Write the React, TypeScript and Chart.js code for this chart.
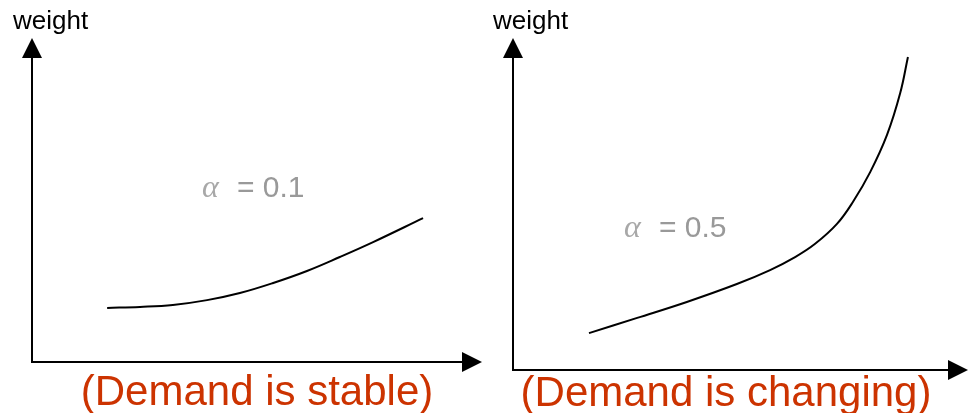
import React, { useEffect, useRef } from "react";
import { Chart, registerables } from "chart.js";

Chart.register(...registerables);

// Left panel (alpha = 0.1): time vs weight
const stableTime = [1.67, 2.4, 3.13, 3.89, 4.62, 5.36, 6.11, 6.84, 7.58, 8.69];
const stableWeight = [1.67, 1.7, 1.76, 1.91, 2.13, 2.44, 2.81, 3.24, 3.7, 4.44];
// Right panel (alpha = 0.5)
const changingTime = [1.67, 2.73, 3.82, 4.92, 5.65, 6.2, 6.64, 7.12, 7.47, 7.85, 8.22, 8.51, 8.68];
const changingWeight = [1.11, 1.57, 2.05, 2.59, 3.01, 3.4, 3.8, 4.4, 5.06, 5.96, 7.08, 8.34, 9.43];

const axisLabel = "weight";
const alphaValues = ["0.1", "0.5"];
const captions = ["(Demand is stable)", "(Demand is changing)"];

const SANS = '"Liberation Sans", Arial, sans-serif';
const SERIF = '"Liberation Serif", "Times New Roman", serif';

const decorPlugin = {
  id: "decor",
  afterDraw(chart: any, _args: any, opts: any) {
    const { ctx, chartArea: a } = chart;
    ctx.save();
    ctx.strokeStyle = "#000";
    ctx.fillStyle = "#000";
    ctx.lineWidth = 2;
    // y axis
    ctx.beginPath();
    ctx.moveTo(a.left, a.bottom + 1);
    ctx.lineTo(a.left, a.top + 18);
    ctx.stroke();
    ctx.beginPath();
    ctx.moveTo(a.left, a.top);
    ctx.lineTo(a.left - 10, a.top + 20);
    ctx.lineTo(a.left + 10, a.top + 20);
    ctx.closePath();
    ctx.fill();
    // x axis
    ctx.beginPath();
    ctx.moveTo(a.left - 1, a.bottom);
    ctx.lineTo(a.right - 18, a.bottom);
    ctx.stroke();
    ctx.beginPath();
    ctx.moveTo(a.right, a.bottom);
    ctx.lineTo(a.right - 20, a.bottom - 10);
    ctx.lineTo(a.right - 20, a.bottom + 10);
    ctx.closePath();
    ctx.fill();

    ctx.textBaseline = "alphabetic";
    // axis label
    ctx.fillStyle = "#000";
    ctx.font = `26px ${SANS}`;
    ctx.textAlign = "left";
    ctx.fillText(opts.label, opts.labelX, opts.labelY);

    // alpha label
    ctx.fillStyle = "#a8a8a8";
    ctx.font = `italic 32px ${SERIF}`;
    ctx.fillText("\u03B1", opts.alphaX, opts.alphaY);
    ctx.fillStyle = "#999999";
    ctx.font = `30px ${SANS}`;
    ctx.fillText("= " + opts.alpha, opts.alphaX + 35, opts.alphaY);

    // caption
    ctx.fillStyle = "#cc3300";
    ctx.font = `42px ${SANS}`;
    ctx.textAlign = "center";
    ctx.fillText(opts.caption, opts.captionX, opts.captionY);
    ctx.restore();
  },
};

function makeChart(
  canvas: HTMLCanvasElement,
  xs: number[],
  ys: number[],
  padding: any,
  decor: any
) {
  return new Chart(canvas, {
    type: "line",
    data: {
      datasets: [
        {
          data: xs.map((x, i) => ({ x, y: ys[i] })),
          borderColor: "#000",
          borderWidth: 2,
          pointRadius: 0,
          tension: 0.4,
          fill: false,
        },
      ],
    },
    options: {
      responsive: false,
      animation: false,
      devicePixelRatio: 1,
      layout: { padding },
      scales: {
        x: { type: "linear", min: 0, max: 10, display: false },
        y: { type: "linear", min: 0, max: 10, display: false },
      },
      plugins: {
        legend: { display: false },
        tooltip: { enabled: false },
        decor,
      } as any,
    },
    plugins: [decorPlugin],
  } as any);
}

export default function App() {
  const leftRef = useRef<HTMLCanvasElement>(null);
  const rightRef = useRef<HTMLCanvasElement>(null);

  useEffect(() => {
    const c1 = makeChart(
      leftRef.current!,
      stableTime,
      stableWeight,
      { left: 32, right: 8, top: 38, bottom: 51 },
      {
        label: axisLabel,
        labelX: 13,
        labelY: 29,
        alpha: alphaValues[0],
        alphaX: 202,
        alphaY: 197,
        caption: captions[0],
        captionX: 257,
        captionY: 405,
      }
    );
    const c2 = makeChart(
      rightRef.current!,
      changingTime,
      changingWeight,
      { left: 23, right: 2, top: 38, bottom: 43 },
      {
        label: axisLabel,
        labelX: 3,
        labelY: 29,
        alpha: alphaValues[1],
        alphaX: 134,
        alphaY: 237,
        caption: captions[1],
        captionX: 236,
        captionY: 406,
      }
    );
    return () => {
      c1.destroy();
      c2.destroy();
    };
  }, []);

  return (
    <div
      style={{
        position: "absolute",
        left: 0,
        top: 0,
        width: 970,
        height: 413,
        background: "#fff",
        overflow: "hidden",
      }}
    >
      <canvas
        ref={leftRef}
        width={490}
        height={413}
        style={{ position: "absolute", left: 0, top: 0, width: 490, height: 413 }}
      />
      <canvas
        ref={rightRef}
        width={480}
        height={413}
        style={{ position: "absolute", left: 490, top: 0, width: 480, height: 413 }}
      />
    </div>
  );
}
